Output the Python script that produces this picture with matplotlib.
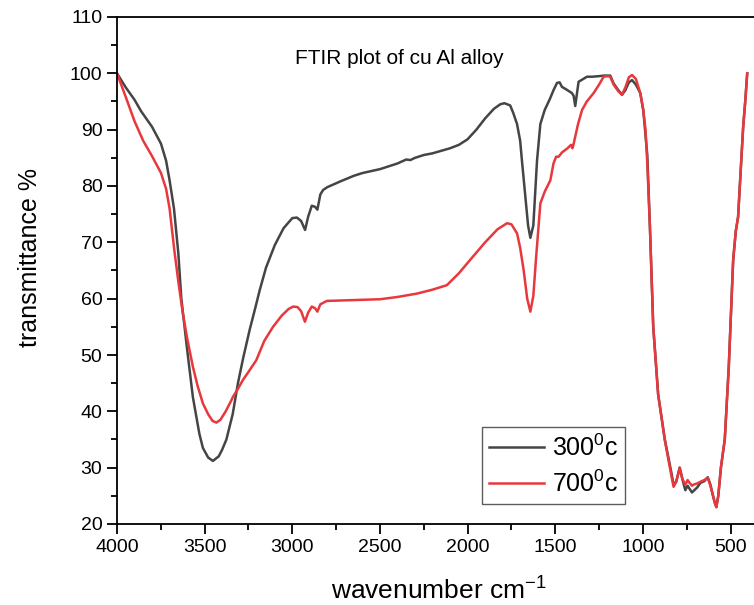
import matplotlib
matplotlib.use("Agg")
import matplotlib.pyplot as plt
from matplotlib.ticker import MultipleLocator

plt.rcParams["font.family"] = ["Liberation Sans", "DejaVu Sans"]
plt.rcParams["mathtext.default"] = "regular"

# 300 C sample
wn_300 = [4000, 3950, 3900, 3863, 3800, 3749, 3720, 3700, 3675, 3650, 3633, 3600,
          3567, 3530, 3510, 3480, 3453, 3420, 3400, 3376, 3340, 3310, 3280, 3243,
          3210, 3186, 3150, 3100, 3050, 3000, 2974, 2950, 2927, 2910, 2889, 2870,
          2857, 2840, 2824, 2800, 2727, 2650, 2600, 2499, 2400, 2350, 2327, 2300,
          2250, 2200, 2100, 2050, 2000, 1950, 1900, 1850, 1814, 1790, 1757, 1740,
          1718, 1700, 1690, 1670, 1655, 1642, 1625, 1604, 1585, 1560, 1530, 1510,
          1490, 1475, 1462, 1440, 1420, 1405, 1395, 1386, 1378, 1367, 1340, 1319,
          1290, 1250, 1220, 1186, 1167, 1140, 1119, 1100, 1080, 1062, 1040, 1015,
          998, 985, 975, 960, 941, 913, 875, 840, 825, 810, 790, 775, 758, 745,
          735, 720, 710, 690, 672, 650, 630, 615, 600, 590, 581, 570, 555, 533,
          510, 485, 470, 457, 440, 428, 415, 405]
t_300 = [100, 97.5, 95.3, 93.3, 90.5, 87.5, 84.5, 81, 76, 68, 60, 51,
         42.5, 36, 33.5, 31.8, 31.2, 32, 33.2, 35, 39.5, 45, 49.5, 54.5,
         58.5, 61.5, 65.5, 69.5, 72.5, 74.3, 74.4, 73.8, 72.2, 74.5, 76.5, 76.3,
         75.8, 78.5, 79.3, 79.8, 80.8, 81.8, 82.3, 83, 84, 84.7, 84.6, 85,
         85.5, 85.8, 86.7, 87.3, 88.3, 90, 92, 93.7, 94.5, 94.7, 94.3, 93,
         91, 88, 84.5, 78, 73, 70.8, 73, 84.5, 91, 93.5, 95.5, 97,
         98.3, 98.4, 97.6, 97.2, 96.8, 96.5, 96, 94.2, 96, 98.5, 99, 99.4,
         99.4, 99.5, 99.6, 99.6, 98.2, 97, 96.2, 97, 98.4, 98.8, 98, 96.5,
         93.5, 89, 85.5, 72.8, 55, 43, 35, 29.5, 27, 27.5, 30, 28, 26, 26.8,
         26.3, 25.6, 25.9, 26.5, 27.3, 27.6, 28.3, 27, 25, 23.8, 23, 25, 30, 35,
         48, 66.9, 72, 74.5, 84, 90.5, 95.5, 100]

# 700 C sample
wn_700 = [4000, 3950, 3900, 3850, 3800, 3749, 3720, 3700, 3673, 3650, 3625, 3600,
          3567, 3540, 3510, 3480, 3455, 3433, 3410, 3380, 3350, 3338, 3310, 3281,
          3250, 3205, 3160, 3110, 3060, 3020, 2995, 2970, 2950, 2928, 2910, 2889,
          2870, 2857, 2840, 2803, 2700, 2600, 2499, 2400, 2289, 2200, 2118, 2050,
          1985, 1900, 1830, 1775, 1750, 1718, 1700, 1680, 1660, 1642, 1625, 1610,
          1585, 1560, 1528, 1510, 1495, 1481, 1460, 1430, 1410, 1402, 1395, 1370,
          1347, 1320, 1281, 1250, 1224, 1200, 1186, 1167, 1140, 1119, 1100, 1080,
          1062, 1040, 1015, 998, 985, 975, 960, 941, 913, 875, 840, 825, 810, 790,
          775, 758, 745, 739, 720, 710, 690, 672, 650, 630, 615, 600, 590, 581,
          570, 555, 533, 510, 485, 470, 457, 440, 428, 415, 405]
t_700 = [100, 95.8, 91.5, 88, 85.3, 82.3, 79.5, 76, 68.6, 63, 57.5, 53,
         47.9, 44.5, 41.4, 39.5, 38.3, 38, 38.5, 40, 41.8, 42.6, 44, 45.6,
         47, 49.1, 52.5, 55, 57, 58.2, 58.6, 58.5, 57.8, 55.9, 57.5, 58.6,
         58.3, 57.7, 59, 59.6, 59.7, 59.8, 59.9, 60.3, 60.9, 61.6, 62.4, 64.5,
         66.9, 70, 72.3, 73.4, 73.2, 71.6, 69, 65, 60, 57.7, 60.5, 67,
         76.9, 79, 81, 84, 85.2, 85.2, 86, 86.7, 87.3, 86.7, 87.5, 91,
         93.5, 95, 96.5, 98, 99.4, 99.5, 99.4, 98, 96.8, 96.2, 97.5, 99.3,
         99.7, 99, 96.5, 93.5, 90, 84, 72.8, 55, 43, 34.9, 29, 26.6, 27.5, 30,
         28, 27, 27.8, 27.5, 26.8, 27, 27.2, 27.5, 27.8, 28.2, 26.8, 25, 23.8, 23,
         25, 30, 35, 48, 66.9, 72, 74.5, 84, 90.5, 95.5, 100]

labels = ["300$^0$c", "700$^0$c"]
colors = ["#454545", "#e8383d"]

fig = plt.figure(figsize=(7.54, 6.05), dpi=100)
ax = fig.add_axes([117 / 754, 81 / 605, 643 / 754, 507 / 605])

ax.plot(wn_300, t_300, color=colors[0], lw=1.8, label=labels[0])
ax.plot(wn_700, t_700, color=colors[1], lw=1.8, label=labels[1])

ax.set_xlim(4000, 332)
ax.set_ylim(20, 110)
ax.xaxis.set_major_locator(MultipleLocator(500))
ax.xaxis.set_minor_locator(MultipleLocator(250))
ax.yaxis.set_major_locator(MultipleLocator(10))
ax.yaxis.set_minor_locator(MultipleLocator(5))
ax.tick_params(which="major", direction="out", length=7, width=1.3, labelsize=14)
ax.tick_params(which="minor", direction="out", length=4, width=1.3)
for s in ax.spines.values():
    s.set_linewidth(1.3)

ax.set_xlabel("wavenumber cm$^{-1}$", fontsize=19, labelpad=16)
ax.set_ylabel("transmittance %", fontsize=18, labelpad=20)
ax.yaxis.label.set_y(0.525)

fig.text(399 / 754, 1 - 59 / 605, "FTIR plot of cu Al alloy", fontsize=15,
         ha="center", va="center")

leg = ax.legend(loc="upper left", bbox_to_anchor=(0.567, 0.192), fontsize=18,
                frameon=True, fancybox=False, borderaxespad=0, handlelength=2.2,
                handletextpad=0.3, borderpad=0.3, labelspacing=0.4)
leg.get_frame().set_edgecolor("#333333")
leg.get_frame().set_linewidth(1.0)

fig.savefig("out.png", dpi=100)
